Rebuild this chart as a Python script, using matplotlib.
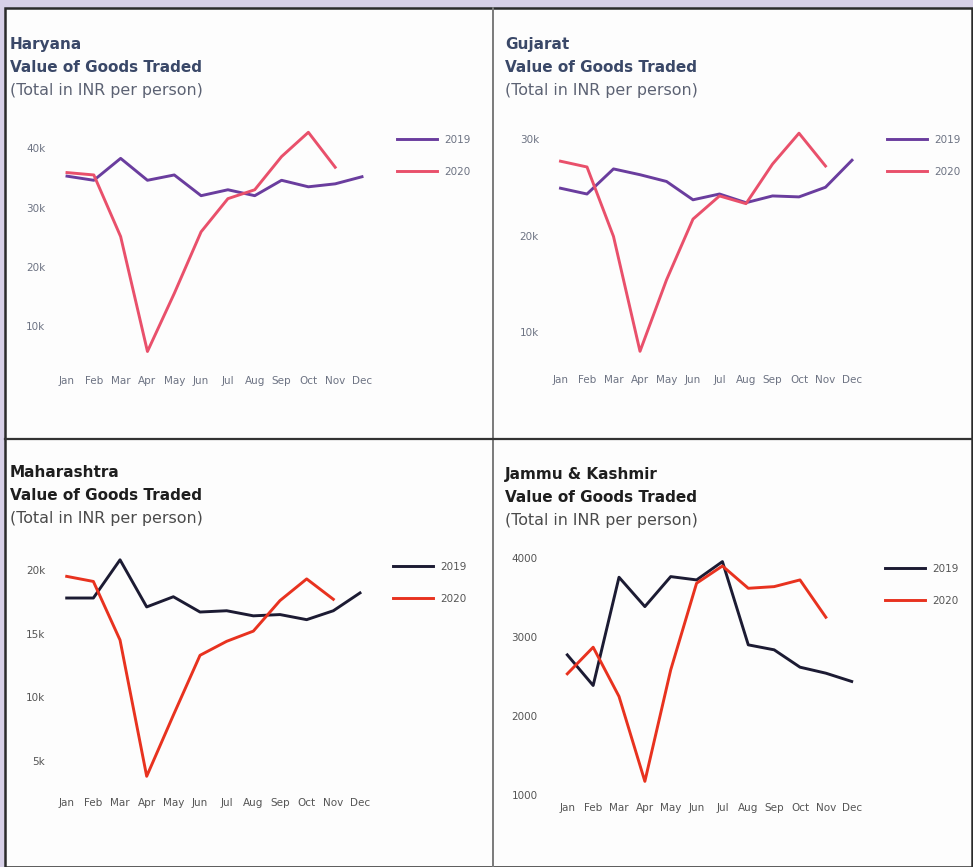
import numpy as np
import matplotlib.pyplot as plt
from matplotlib.patches import Rectangle
from matplotlib.ticker import FuncFormatter

plt.rcParams['font.family'] = ['DejaVu Sans']

W, H = 973, 867

months = ["Jan", "Feb", "Mar", "Apr", "May", "Jun",
          "Jul", "Aug", "Sep", "Oct", "Nov", "Dec"]

# values in INR per person
haryana_2019 = [35300, 34600, 38300, 34600, 35500, 32000,
                33000, 32000, 34600, 33500, 34000, 35200]
haryana_2020 = [35900, 35500, 25100, 5700, 15500, 25900,
                31500, 33000, 38600, 42700, 36800]

gujarat_2019 = [24900, 24300, 26900, 26300, 25600, 23700,
                24300, 23400, 24100, 24000, 25000, 27800]
gujarat_2020 = [27700, 27100, 19900, 8000, 15400, 21700,
                24100, 23300, 27400, 30600, 27200]

maharashtra_2019 = [17800, 17800, 20800, 17100, 17900, 16700,
                    16800, 16400, 16500, 16100, 16800, 18200]
maharashtra_2020 = [19500, 19100, 14500, 3800, 8600, 13300,
                    14400, 15200, 17600, 19300, 17700]

jk_2019 = [2776, 2388, 3760, 3388, 3768, 3726,
           3958, 2903, 2840, 2620, 2544, 2439]
jk_2020 = [2536, 2873, 2249, 1173, 2586, 3684,
           3903, 3620, 3641, 3726, 3253]

purple = "#6a3d9e"
pink = "#e9506b"
navy = "#1c1b33"
red = "#e8321f"


def fig_box(x0, y0, x1, y1):
    """Pixel box (top-left origin) -> figure fraction rect."""
    return [x0 / W, 1 - y1 / H, (x1 - x0) / W, (y1 - y0) / H]


def place_axes(fig, jan_px, dec_px, va, ya, vb, yb, ylim):
    step = (dec_px - jan_px) / 11
    scale = (ya - yb) / (vb - va)
    top = ya - (ylim[1] - va) * scale
    bottom = ya + (va - ylim[0]) * scale
    ax = fig.add_axes(fig_box(jan_px - step / 2, top, dec_px + step / 2, bottom))
    ax.set_xlim(-0.5, 11.5)
    ax.set_ylim(*ylim)
    return ax


def draw_panel(ax, y19, y20, c19, c20, yticks, fmt, tick_color, ypad, xpad, leg_xy):
    x = np.arange(len(months))
    ax.plot(x[:len(y19)], y19, color=c19, lw=2.1, label="2019")
    ax.plot(x[:len(y20)], y20, color=c20, lw=2.1, label="2020")
    ax.set_xticks(x)
    ax.set_xticklabels(months)
    ax.set_yticks(yticks)
    ax.yaxis.set_major_formatter(FuncFormatter(fmt))
    ax.tick_params(length=0, labelsize=7.5, colors=tick_color)
    ax.tick_params(axis="y", pad=ypad)
    ax.tick_params(axis="x", pad=xpad)
    for s in ax.spines.values():
        s.set_visible(False)
    ax.patch.set_alpha(0)
    leg = ax.legend(loc="upper left",
                    bbox_to_anchor=(leg_xy[0] / W, 1 - leg_xy[1] / H),
                    bbox_transform=ax.figure.transFigure,
                    frameon=False, fontsize=7.5, handlelength=3.85,
                    labelspacing=2.1, borderpad=0, borderaxespad=0,
                    handletextpad=0.7)
    for t in leg.get_texts():
        t.set_color(tick_color)


def titles(fig, x, y, name, color, sub_color):
    fig.text(x / W, 1 - y / H, name, fontsize=11, fontweight="bold",
             color=color, va="center")
    fig.text(x / W, 1 - (y + 23) / H, "Value of Goods Traded", fontsize=11,
             fontweight="bold", color=color, va="center")
    fig.text(x / W, 1 - (y + 47) / H, "(Total in INR per person)", fontsize=11.4,
             color=sub_color, va="center")


k_fmt = lambda v, p: f"{int(v / 1000)}k"
n_fmt = lambda v, p: f"{int(v)}"

fig = plt.figure(figsize=(W / 100, H / 100), dpi=100)
fig.patch.set_facecolor("#d7d0e7")

# panel frame
fig.patches.append(Rectangle((5 / W, 0), 967 / W, 1 - 8 / H,
                             transform=fig.transFigure, facecolor="#fdfdfd",
                             edgecolor="#2b2b2b", lw=1.8, zorder=-5))
fig.add_artist(plt.Line2D([493 / W, 493 / W], [0, 1 - 8 / H],
                          transform=fig.transFigure, color="#7a7a7a", lw=1.4,
                          zorder=-4))
fig.add_artist(plt.Line2D([5 / W, 972 / W], [1 - 439 / H, 1 - 439 / H],
                          transform=fig.transFigure, color="#333333", lw=1.6,
                          zorder=-4))

top_title = "#3a4868"
top_sub = "#5c6273"
top_tick = "#6d7383"
bot_title = "#1e1e1e"
bot_sub = "#4a4a4a"
bot_tick = "#555555"

titles(fig, 10, 44, "Haryana", top_title, top_sub)
titles(fig, 505, 44, "Gujarat", top_title, top_sub)
titles(fig, 10, 472, "Maharashtra", bot_title, bot_sub)
titles(fig, 505, 474, "Jammu & Kashmir", bot_title, bot_sub)

ax1 = place_axes(fig, 67, 362, 10000, 326, 40000, 148.3, (3000, 45000))
draw_panel(ax1, haryana_2019, haryana_2020, purple, pink,
           [10000, 20000, 30000, 40000], k_fmt, top_tick, 6, 6, (397, 135))

ax2 = place_axes(fig, 560.5, 852, 10000, 332, 30000, 139, (6000, 32000))
draw_panel(ax2, gujarat_2019, gujarat_2020, purple, pink,
           [10000, 20000, 30000], k_fmt, top_tick, 6, 3.5, (887, 135))

ax3 = place_axes(fig, 66.7, 360, 5000, 761, 20000, 570, (2500, 21500))
draw_panel(ax3, maharashtra_2019, maharashtra_2020, navy, red,
           [5000, 10000, 15000, 20000], k_fmt, bot_tick, 6, 3.5, (393, 562))

ax4 = place_axes(fig, 567.3, 851.7, 1000, 795, 4000, 558.3, (1000, 4050))
draw_panel(ax4, jk_2019, jk_2020, navy, red,
           [1000, 2000, 3000, 4000], n_fmt, bot_tick, 12, 6, (885, 564))

fig.savefig("out.png", dpi=100, facecolor=fig.get_facecolor())
